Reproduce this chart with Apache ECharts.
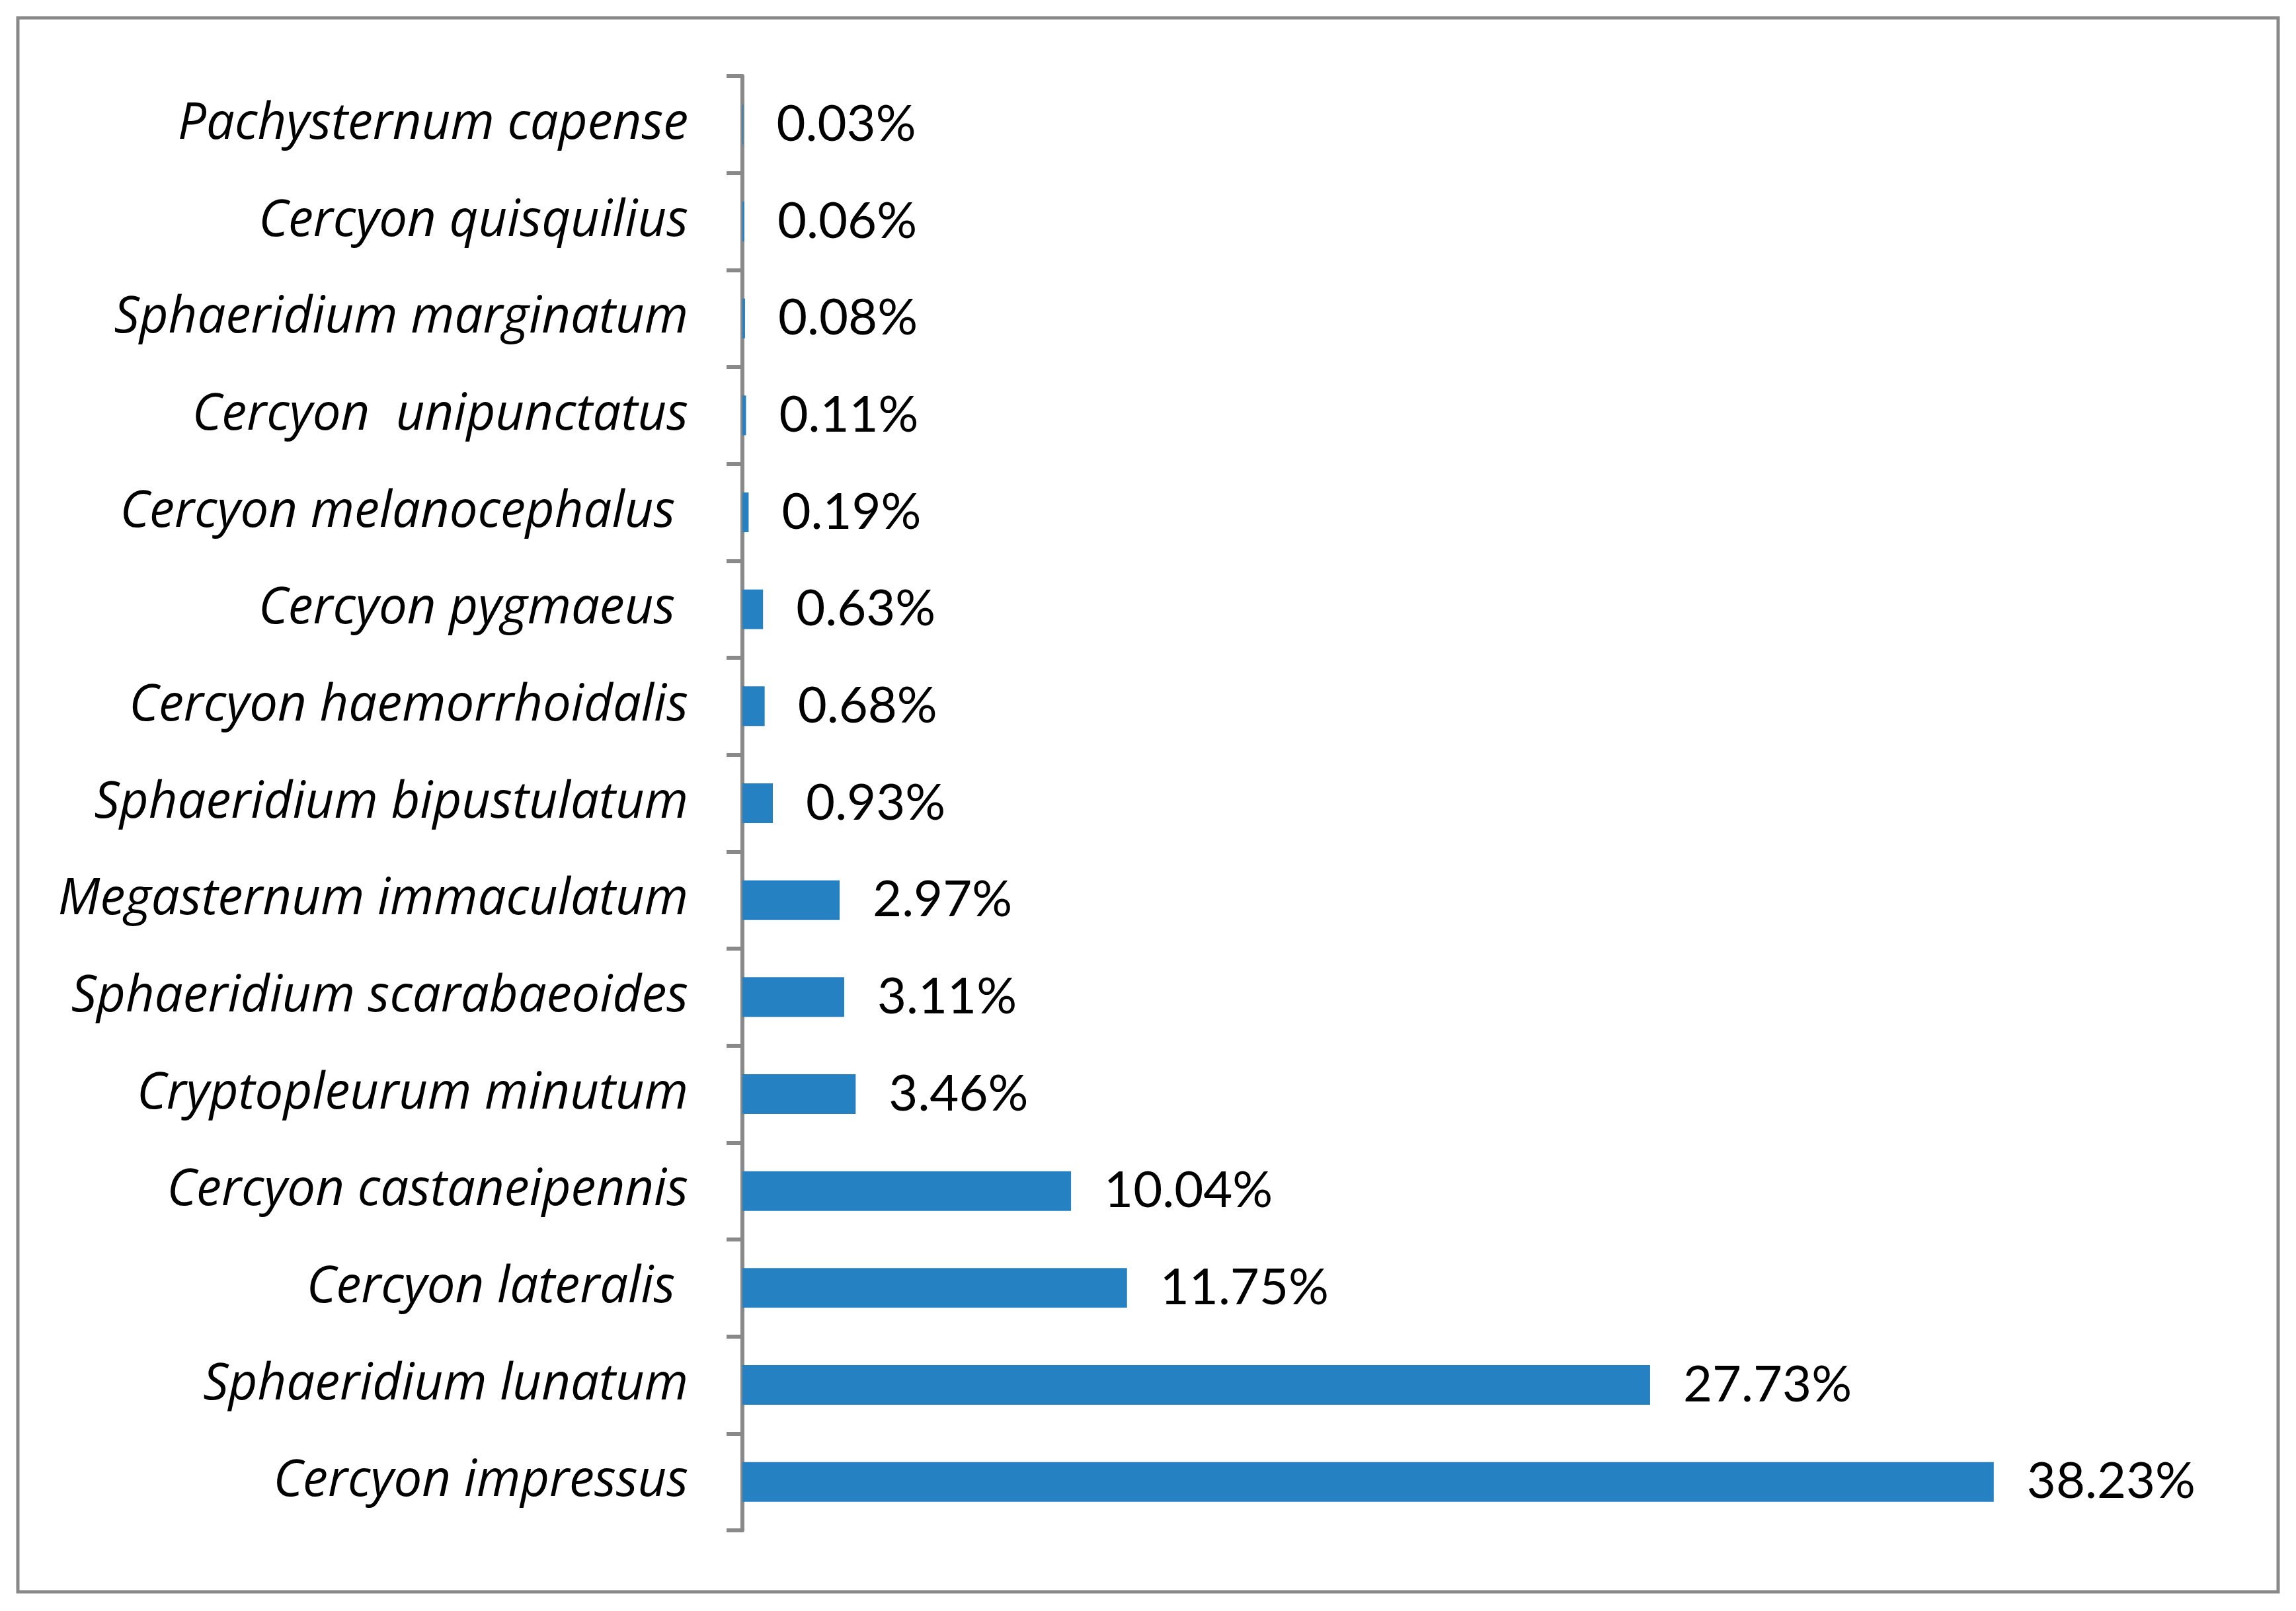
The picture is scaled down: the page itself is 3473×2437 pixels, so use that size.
<!DOCTYPE html>
<html>
<head>
<meta charset="utf-8">
<script src="https://cdn.jsdelivr.net/npm/echarts@6/dist/echarts.min.js"></script>
<style>
html,body{margin:0;padding:0;background:#fff;}
#chart{width:3473px;height:2437px;}
</style>
</head>
<body>
<div id="chart"></div>
<script>
// Categories listed bottom -> top (ECharts category y axis starts at the bottom)
const species = [
  'Cercyon impressus',
  'Sphaeridium lunatum',
  'Cercyon lateralis ',
  'Cercyon castaneipennis',
  'Cryptopleurum minutum',
  'Sphaeridium scarabaeoides',
  'Megasternum immaculatum',
  'Sphaeridium bipustulatum',
  'Cercyon haemorrhoidalis',
  'Cercyon pygmaeus ',
  'Cercyon melanocephalus ',
  'Cercyon  unipunctatus',
  'Sphaeridium marginatum',
  'Cercyon quisquilius',
  'Pachysternum capense'
];
const percentages = [38.23, 27.73, 11.75, 10.04, 3.46, 3.11, 2.97, 0.93, 0.68, 0.63, 0.19, 0.11, 0.08, 0.06, 0.03];

const chart = echarts.init(document.getElementById('chart'), null, {renderer: 'canvas'});
chart.setOption({
  backgroundColor: '#ffffff',
  animation: false,
  graphic: [{
    type: 'rect',
    shape: {x: 27, y: 27, width: 3419, height: 2381},
    style: {fill: 'none', stroke: '#898989', lineWidth: 5}
  }],
  grid: {left: 1123, top: 115, width: 2228, height: 2200, containLabel: false},
  xAxis: {
    type: 'value', min: 0, max: 45, show: false,
    splitLine: {show: false}
  },
  yAxis: {
    type: 'category',
    data: species,
    axisLine: {show: true, lineStyle: {color: '#898989', width: 6}},
    axisTick: {show: true, length: 24, lineStyle: {color: '#898989', width: 6}},
    axisLabel: {
      margin: 82, fontSize: 76, fontStyle: 'italic', fontFamily: 'Open Sans', color: '#000'
    },
    splitLine: {show: false}
  },
  series: [{
    type: 'bar',
    data: percentages,
    barWidth: 60,
    itemStyle: {color: '#2581C1'},
    label: {
      show: true, position: 'right', distance: 50,
      fontSize: 76, fontFamily: 'Lato', color: '#000',
      formatter: p => p.value.toFixed(2) + '%'
    }
  }]
});
</script>
</body>
</html>
